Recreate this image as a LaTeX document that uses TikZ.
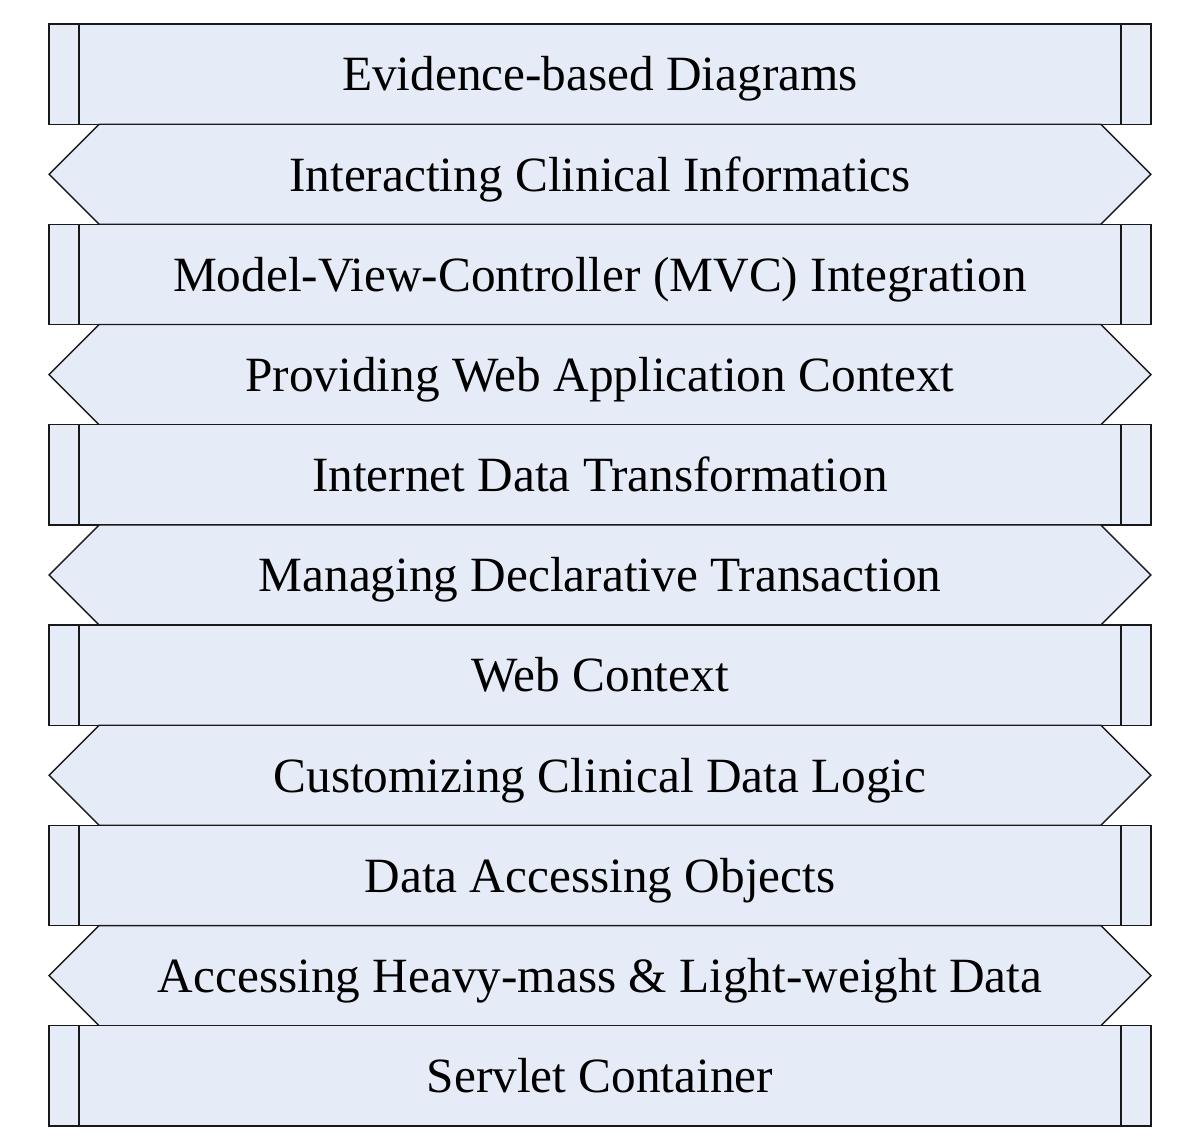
\documentclass[tikz,border=0pt]{standalone}
\usepackage{fontspec}
\setmainfont{Liberation Serif}
\usetikzlibrary{positioning, shapes.symbols}
\definecolor{layerfill}{HTML}{E6ECF7}
\tikzset{
  layer/.style={
    rectangle, draw=black!90, line width=1pt, fill=layerfill,
    minimum width=275mm, minimum height=25mm, inner sep=0pt, outer sep=0pt,
    text height=23.8pt, text depth=0pt,
    font=\fontsize{35}{42}\selectfont
  },
  link/.style={
    signal, signal to=west and east, signal pointer angle=90,
    draw=black!90, line width=1pt, fill=layerfill,
    minimum width=275mm, minimum height=25mm, inner sep=0pt, outer sep=0pt,
    text height=23.8pt, text depth=0pt,
    font=\fontsize{35}{42}\selectfont
  },
  edgeline/.style={draw=black!90, line width=1pt}
}
\begin{document}
\begin{tikzpicture}

\node[layer] (l1) {Evidence-based Diagrams};
\node[link, below=0mm of l1]  (l2)  {Interacting Clinical Informatics};
\node[layer, below=0mm of l2] (l3)  {Model-View-Controller (MVC) Integration};
\node[link, below=0mm of l3]  (l4)  {Providing Web Application Context};
\node[layer, below=0mm of l4] (l5)  {Internet Data Transformation};
\node[link, below=0mm of l5]  (l6)  {Managing Declarative Transaction};
\node[layer, below=0mm of l6] (l7)  {Web Context};
\node[link, below=0mm of l7]  (l8)  {Customizing Clinical Data Logic};
\node[layer, below=0mm of l8] (l9)  {Data Accessing Objects};
\node[link, below=0mm of l9]  (l10) {Accessing Heavy-mass \& Light-weight Data};
\node[layer, below=0mm of l10] (l11) {Servlet Container};

% side bars of the plain layers
\foreach \n in {l1,l3,l5,l7,l9,l11} {
  \draw[edgeline] ([xshift=7.5mm]\n.north west) -- ([xshift=7.5mm]\n.south west);
  \draw[edgeline] ([xshift=-7.5mm]\n.north east) -- ([xshift=-7.5mm]\n.south east);
}

\useasboundingbox ([xshift=-12.25mm, yshift=6mm]l1.north west)
  rectangle ([xshift=12.25mm, yshift=-3.25mm]l11.south east);

\end{tikzpicture}
\end{document}
